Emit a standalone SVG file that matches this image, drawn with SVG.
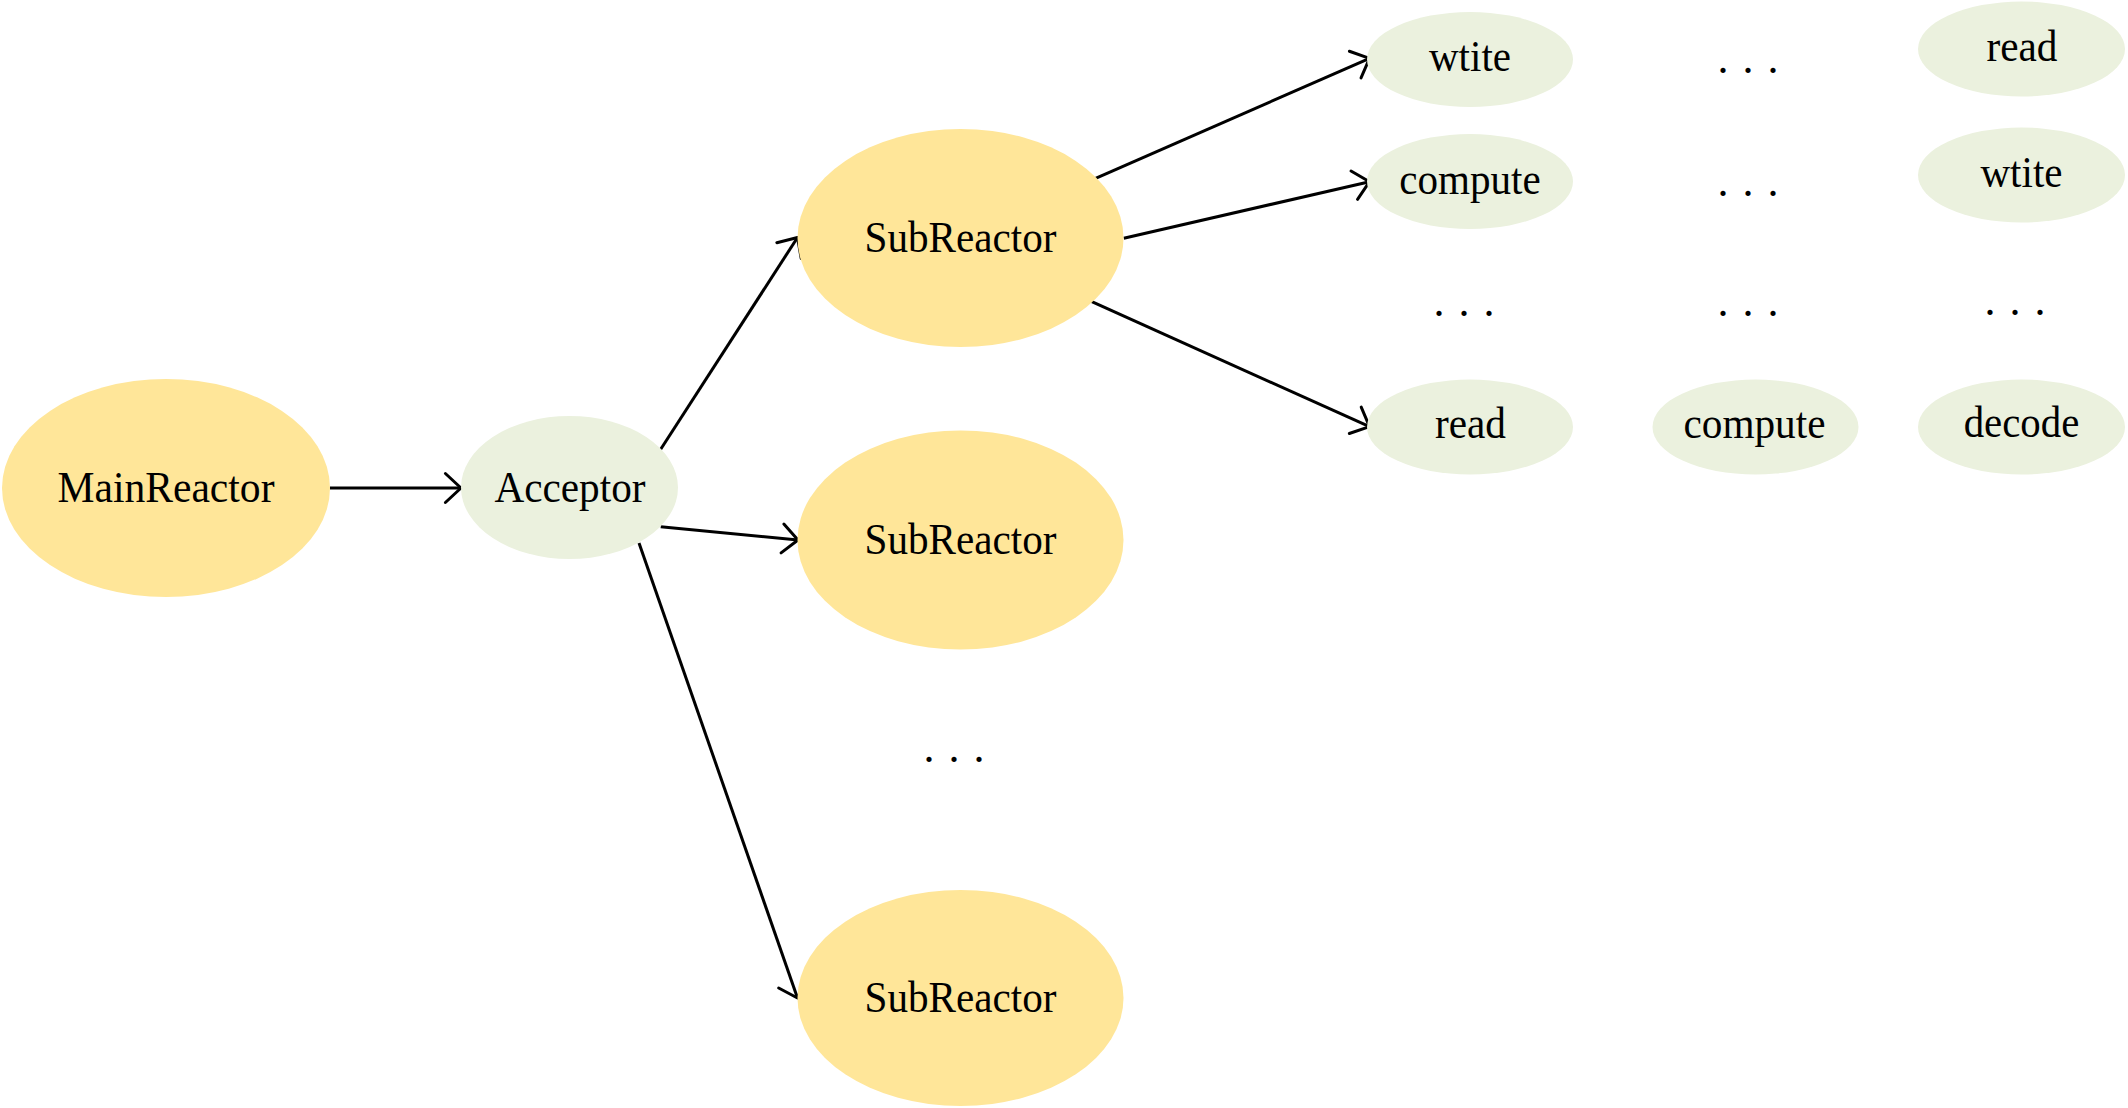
<svg xmlns="http://www.w3.org/2000/svg" width="2128" height="1108" viewBox="0 0 2128 1108">
<style>
.big{fill:#FFE699}
.small{fill:#EBF1DE}
.t{font-family:"Liberation Serif","Times New Roman",serif;font-size:45px;fill:#000;text-anchor:middle}
.d{font-family:"Liberation Serif","Times New Roman",serif;font-size:44px;fill:#000;letter-spacing:14px}
.c{stroke:#000;stroke-width:3;fill:none;marker-end:url(#arr)}
</style>
<defs>
<marker id="arr" markerUnits="userSpaceOnUse" viewBox="-20 -20 24 40" markerWidth="24" markerHeight="40" refX="0" refY="0" orient="auto" overflow="visible">
<path d="M -15.6 -14.5 L 0 0 L -15.6 14.5" fill="none" stroke="#000" stroke-width="3" stroke-linecap="round" stroke-linejoin="round"/>
</marker>
</defs>
<rect width="2128" height="1108" fill="#fff"/>
<g id="connectors">
<line class="c" x1="330" y1="488" x2="461" y2="488"/>
<line class="c" x1="660.7" y1="449.3" x2="797.5" y2="237.5"/>
<line class="c" x1="660.7" y1="526.7" x2="798" y2="540"/>
<line class="c" x1="639" y1="543" x2="797.5" y2="998"/>
<line class="c" x1="1095.6" y1="178.3" x2="1369.5" y2="58.3"/>
<line class="c" x1="1123.8" y1="238.3" x2="1369.5" y2="181.7"/>
<line class="c" x1="1091.8" y1="301.7" x2="1369.5" y2="426.7"/>
</g>
<g id="mainreactor"><ellipse class="big" cx="166" cy="488" rx="164" ry="109"/><text class="t" x="166" y="501.7" textLength="217" lengthAdjust="spacingAndGlyphs">MainReactor</text></g>
<g id="acceptor"><ellipse class="small" cx="569.5" cy="487.5" rx="108.5" ry="71.5"/><text class="t" x="570" y="501.7" textLength="151" lengthAdjust="spacingAndGlyphs">Acceptor</text></g>
<g id="subreactor1"><ellipse class="big" cx="960.5" cy="238" rx="163" ry="109"/><text class="t" x="960.5" y="251.7" textLength="192" lengthAdjust="spacingAndGlyphs">SubReactor</text></g>
<g id="subreactor2"><ellipse class="big" cx="960.5" cy="540" rx="163" ry="109.5"/><text class="t" x="960.5" y="554.4" textLength="192" lengthAdjust="spacingAndGlyphs">SubReactor</text></g>
<g id="subreactor3"><ellipse class="big" cx="960.5" cy="998" rx="163" ry="108"/><text class="t" x="960.5" y="1012" textLength="192" lengthAdjust="spacingAndGlyphs">SubReactor</text></g>
<g id="dots-sub"><text class="d" x="923.5" y="762">...</text></g>
<g id="c1-wtite"><ellipse class="small" cx="1470" cy="59.5" rx="103" ry="47.5"/><text class="t" x="1470" y="70.7" textLength="82" lengthAdjust="spacingAndGlyphs">wtite</text></g>
<g id="c1-compute"><ellipse class="small" cx="1470" cy="181.5" rx="103" ry="47.5"/><text class="t" x="1470" y="194" textLength="141.5" lengthAdjust="spacingAndGlyphs">compute</text></g>
<g id="c1-dots"><text class="d" x="1433.5" y="316">...</text></g>
<g id="c1-read"><ellipse class="small" cx="1470" cy="427" rx="103" ry="47.5"/><text class="t" x="1470.5" y="438.3" textLength="71" lengthAdjust="spacingAndGlyphs">read</text></g>
<g id="c2-dots1"><text class="d" x="1717.5" y="73">...</text></g>
<g id="c2-dots2"><text class="d" x="1717.5" y="195.7">...</text></g>
<g id="c2-dots3"><text class="d" x="1717.5" y="316.3">...</text></g>
<g id="c2-compute"><ellipse class="small" cx="1755.5" cy="427" rx="103" ry="47.5"/><text class="t" x="1754.5" y="438" textLength="142" lengthAdjust="spacingAndGlyphs">compute</text></g>
<g id="c3-read"><ellipse class="small" cx="2021.5" cy="49" rx="103.5" ry="47.5"/><text class="t" x="2022" y="61" textLength="71" lengthAdjust="spacingAndGlyphs">read</text></g>
<g id="c3-wtite"><ellipse class="small" cx="2021.5" cy="175" rx="103.5" ry="47.5"/><text class="t" x="2021.5" y="186.7" textLength="82" lengthAdjust="spacingAndGlyphs">wtite</text></g>
<g id="c3-dots"><text class="d" x="1984.5" y="314.7">...</text></g>
<g id="c3-decode"><ellipse class="small" cx="2021.5" cy="427" rx="103.5" ry="47.5"/><text class="t" x="2021.5" y="436.7" textLength="115.6" lengthAdjust="spacingAndGlyphs">decode</text></g>
</svg>
